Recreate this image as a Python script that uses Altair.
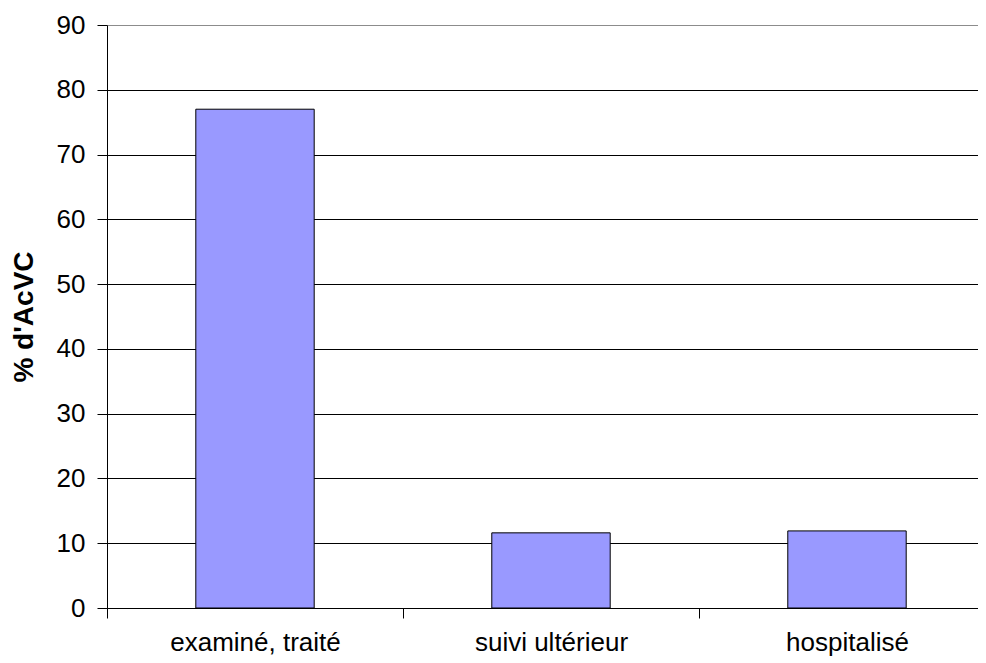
import altair as alt
import pandas as pd

categories = ["examiné, traité", "suivi ultérieur", "hospitalisé"]
values = [77.0, 11.6, 11.9]
y_ticks = [0, 10, 20, 30, 40, 50, 60, 70, 80, 90]
y_title = "% d'AcVC"

df = pd.DataFrame({"cat": categories, "pct": values})

FONT = "Liberation Sans"

chart = alt.Chart(df).mark_bar(
    color="#9999FF", stroke="black", strokeWidth=1
).encode(
    x=alt.X(
        "cat:N", sort=categories, title=None,
        scale=alt.Scale(paddingInner=0.6, paddingOuter=0.2713, align=0.5529),
        axis=alt.Axis(
            labelAngle=0, bandPosition=0, tickOffset=-88.8, labelOffset=88.8,
            ticks=True, tickSize=10,
            tickColor="black", tickWidth=1, domainColor="black", domainWidth=1,
            labelFontSize=26, labelFont=FONT, labelColor="black",
            labelPadding=11, grid=False,
        ),
    ),
    y=alt.Y(
        "pct:Q", title=y_title,
        scale=alt.Scale(domain=[0, 90], nice=False),
        axis=alt.Axis(
            values=y_ticks, tickSize=10, tickColor="black", tickWidth=1,
            domainColor="black", domainWidth=1,
            labelFontSize=26, labelFont=FONT, labelColor="black", labelPadding=12,
            grid=True, gridWidth=1,
            gridColor=alt.condition("datum.value == 90", alt.value("#8c8c8c"), alt.value("black")),
            titleFont=FONT, titleFontSize=28, titleFontWeight="bold",
            titleColor="black", titlePadding=18,
        ),
    ),
).properties(
    width=871, height=583,
    padding={"left": 99, "top": 17, "right": 0, "bottom": 55},
    autosize="none",
).configure_view(stroke=None)

chart.save("out.html", embed_options={"renderer": "svg", "actions": False})
